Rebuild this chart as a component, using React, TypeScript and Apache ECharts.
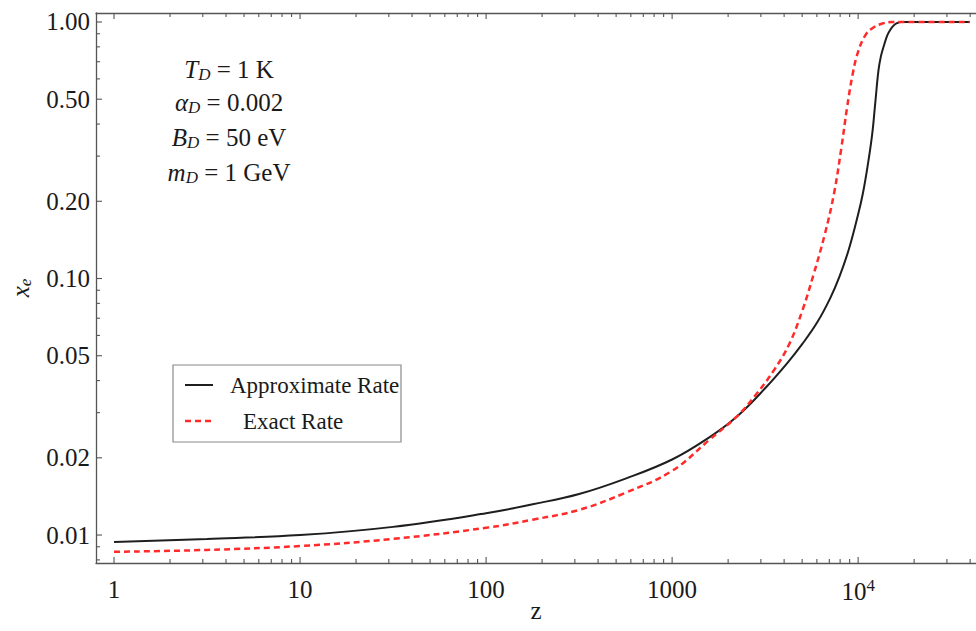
import React, { useEffect, useRef } from "react";
import * as echarts from "echarts";

const SERIF = '"Liberation Serif", "Times New Roman", serif';

// Approximate rate (solid black): z, x_e
const zApprox = [1, 3.16, 10, 31.6, 100, 178, 316, 562, 1000, 1585, 2239, 3162, 4169, 5012, 6026, 7079, 7943, 8913, 10000, 10593, 11220, 11885, 12359, 12853, 13243, 13709, 14289, 14859, 15488, 16144, 16982, 39810];
const xeApprox = [0.0094, 0.00966, 0.01, 0.01076, 0.01216, 0.01318, 0.01445, 0.0166, 0.0197, 0.02404, 0.02904, 0.03733, 0.0469, 0.0556, 0.0675, 0.0839, 0.102, 0.13, 0.178, 0.214, 0.272, 0.363, 0.484, 0.646, 0.733, 0.802, 0.881, 0.931, 0.968, 0.989, 1.0, 1.0];

// Exact rate (dashed red): z, x_e
const zExact = [1, 3.16, 10, 31.6, 100, 178, 316, 562, 1000, 1585, 2239, 2818, 3548, 4266, 5012, 5754, 6607, 7413, 8128, 8710, 9333, 10000, 10965, 12023, 13490, 15136, 39810];
const xeExact = [0.0086, 0.00875, 0.00906, 0.00966, 0.01067, 0.01148, 0.01253, 0.01462, 0.0178, 0.0235, 0.0291, 0.0352, 0.0442, 0.0556, 0.075, 0.1035, 0.148, 0.214, 0.324, 0.462, 0.624, 0.767, 0.891, 0.95, 0.986, 1.0, 1.0];

const seriesNames = ["Approximate Rate", "Exact Rate"];

const xMajorTicks = [1, 10, 100, 1000, 10000];
const xMinorMultipliers = [2, 3, 4, 5, 6, 7, 8, 9];
const yMajorTicks = [0.01, 0.02, 0.05, 0.1, 0.2, 0.5, 1];
const yMinorTicks = [0.008, 0.009, 0.03, 0.04, 0.06, 0.07, 0.08, 0.09, 0.3, 0.4, 0.6, 0.7, 0.8, 0.9];

const paramLines = [
  "{i|T}{sub|D}{n| = 1 K}",
  "{i|α}{sub|D}{n| = 0.002}",
  "{i|B}{sub|D}{n| = 50 eV}",
  "{i|m}{sub|D}{n| = 1 GeV}",
];

const X_MIN = 0.8;
const X_MAX = 43000;
const Y_MIN = 0.00778;
const Y_MAX = 1.084;

const GRID_LEFT = 96;
const GRID_TOP = 13;
const GRID_BOTTOM = 68;
const CHART_W = 976;
const CHART_H = 631;

const xMinorTicks: number[] = [];
for (const d of xMajorTicks) {
  for (const m of xMinorMultipliers) {
    const v = d * m;
    if (v < X_MAX) xMinorTicks.push(v);
  }
}

const AXIS_COLOR = "#555555";
const LABEL_COLOR = "#1a1a1a";
const MAJOR_LEN = 6;
const MINOR_LEN = 4;

export default function App() {
  const ref = useRef<HTMLDivElement>(null);
  useEffect(() => {
    if (!ref.current) return;
    const chart = echarts.init(ref.current, null, { renderer: "svg" });
    const richParams = {
      i: { fontFamily: SERIF, fontStyle: "italic", fontSize: 25, fill: LABEL_COLOR },
      sub: { fontFamily: SERIF, fontStyle: "italic", fontSize: 17, fill: LABEL_COLOR, padding: [10, 0, 0, 0] },
      n: { fontFamily: SERIF, fontSize: 25, fill: LABEL_COLOR },
    };
    const paramY = [69, 102, 137, 172];
    const option: any = {
      animation: false,
      backgroundColor: "#ffffff",
      grid: { left: GRID_LEFT, top: GRID_TOP, right: 0, bottom: GRID_BOTTOM, containLabel: false, outerBoundsMode: "none" },
      xAxis: [
        {
          type: "log",
          logBase: 10,
          min: X_MIN,
          max: X_MAX,
          position: "bottom",
          axisLine: { show: true, onZero: false, lineStyle: { color: AXIS_COLOR, width: 1.3 } },
          axisTick: { show: false },
          axisLabel: {
            show: true,
            customValues: xMajorTicks,
            margin: 14,
            color: LABEL_COLOR,
            fontFamily: SERIF,
            fontSize: 25,
            formatter: (v: number) => {
              const r = Math.round(v);
              if (r >= 10000) return "{n|10}{sup|4}";
              return "{n|" + r + "}";
            },
            rich: {
              n: { fontFamily: SERIF, fontSize: 25, color: LABEL_COLOR },
              sup: { fontFamily: SERIF, fontSize: 17, color: LABEL_COLOR, padding: [0, 0, 12, 0] },
            },
          },
          splitLine: { show: false },
          name: "z",
          nameLocation: "middle",
          nameGap: 35,
          nameMoveOverlap: false,
          nameTextStyle: { fontFamily: SERIF, fontSize: 25, color: LABEL_COLOR },
        },
        {
          type: "log",
          logBase: 10,
          min: X_MIN,
          max: X_MAX,
          position: "top",
          axisLine: { show: true, onZero: false, lineStyle: { color: AXIS_COLOR, width: 1.3 } },
          axisTick: { show: false },
          axisLabel: { show: false },
          splitLine: { show: false },
        },
      ],
      yAxis: [
        {
          type: "log",
          logBase: 10,
          min: Y_MIN,
          max: Y_MAX,
          position: "left",
          axisLine: { show: true, onZero: false, lineStyle: { color: AXIS_COLOR, width: 1.3 } },
          axisTick: { show: false },
          axisLabel: {
            show: true,
            customValues: yMajorTicks,
            margin: 6,
            color: LABEL_COLOR,
            fontFamily: SERIF,
            fontSize: 25,
            formatter: (v: number) => v.toFixed(2),
          },
          splitLine: { show: false },
          name: "{i|x}{sub|e}",
          nameLocation: "middle",
          nameGap: 62,
          nameRotate: 90,
          nameMoveOverlap: false,
          nameTextStyle: {
            fontFamily: SERIF,
            fontSize: 25,
            color: LABEL_COLOR,
            rich: {
              i: { fontFamily: SERIF, fontStyle: "italic", fontSize: 25, color: LABEL_COLOR },
              sub: { fontFamily: SERIF, fontStyle: "italic", fontSize: 17, color: LABEL_COLOR, padding: [10, 0, 0, 0] },
            },
          },
        },
      ],
      series: [
        {
          name: seriesNames[0],
          type: "line",
          xAxisIndex: 0,
          yAxisIndex: 0,
          data: zApprox.map((z, i) => [z, xeApprox[i]]),
          showSymbol: false,
          symbol: "none",
          smooth: 0.4,
          lineStyle: { color: "#1e1e1e", width: 2 },
          z: 2,
        },
        {
          name: seriesNames[1],
          type: "line",
          xAxisIndex: 0,
          yAxisIndex: 0,
          data: zExact.map((z, i) => [z, xeExact[i]]),
          showSymbol: false,
          symbol: "none",
          smooth: 0.4,
          lineStyle: { color: "#ff2a2a", width: 2.5, type: [6, 4] },
          z: 3,
        },
      ],
    };
    chart.setOption(option);

    const yBottom = CHART_H - GRID_BOTTOM;
    const yTop = GRID_TOP;
    const xLeft = GRID_LEFT;
    const inGrid = (p: any) =>
      p && Array.isArray(p) && isFinite(p[0]) && isFinite(p[1]) &&
      p[0] >= xLeft - 1 && p[0] <= CHART_W + 1 && p[1] >= yTop - 1 && p[1] <= yBottom + 1;

    // Convert a data point to pixels through the chart's own log cartesian.
    const finders: any[] = [{ seriesIndex: 0 }, { gridIndex: 0 }, { xAxisIndex: 0, yAxisIndex: 0 }];
    const toPoint = (x: number, y: number): number[] | null => {
      const candidates = [
        [x, y],
        [Math.log10(x), Math.log10(y)],
      ];
      for (const f of finders) {
        for (const c of candidates) {
          let r: any = null;
          try {
            r = chart.convertToPixel(f, c as any);
          } catch (e) {
            r = null;
          }
          if (inGrid(r)) return r as number[];
        }
      }
      return null;
    };

    const tickLine = (x1: number, y1: number, x2: number, y2: number) => ({
      type: "line",
      silent: true,
      z: 10,
      shape: { x1, y1, x2, y2 },
      style: { stroke: AXIS_COLOR, lineWidth: 1.1 },
    });
    const ticks: any[] = [];
    const addX = (v: number, len: number) => {
      const p = toPoint(v, 0.1);
      if (!p) return;
      ticks.push(tickLine(p[0], yBottom, p[0], yBottom - len));
      ticks.push(tickLine(p[0], yTop, p[0], yTop + len));
    };
    const addY = (v: number, len: number) => {
      const p = toPoint(10, v);
      if (!p) return;
      ticks.push(tickLine(xLeft, p[1], xLeft + len, p[1]));
    };
    xMajorTicks.forEach((v) => addX(v, MAJOR_LEN));
    xMinorTicks.forEach((v) => addX(v, MINOR_LEN));
    yMajorTicks.forEach((v) => addY(v, MAJOR_LEN));
    yMinorTicks.forEach((v) => addY(v, MINOR_LEN));

    chart.setOption({
      graphic: [
        ...paramLines.map((t, k) => ({
          type: "text",
          x: 229,
          y: paramY[k],
          style: { text: t, rich: richParams, align: "center", verticalAlign: "middle", fontFamily: SERIF, fontSize: 25 },
        })),
        {
          type: "group",
          children: [
            { type: "rect", shape: { x: 173, y: 365, width: 228, height: 77 }, style: { fill: "#ffffff", stroke: "#8a8a8a", lineWidth: 1.2 } },
            { type: "line", shape: { x1: 185, y1: 385, x2: 213, y2: 385 }, style: { stroke: "#1e1e1e", lineWidth: 2 } },
            { type: "text", x: 230, y: 385, style: { text: seriesNames[0], fontFamily: SERIF, fontSize: 23, fill: LABEL_COLOR, verticalAlign: "middle" } },
            { type: "line", shape: { x1: 185, y1: 421, x2: 212, y2: 421 }, style: { stroke: "#ff2a2a", lineWidth: 2.5, lineDash: [6, 4] } },
            { type: "text", x: 243, y: 421, style: { text: seriesNames[1], fontFamily: SERIF, fontSize: 23, fill: LABEL_COLOR, verticalAlign: "middle" } },
          ],
        },
        ...ticks,
      ],
    });
    return () => chart.dispose();
  }, []);
  return (
    <div
      ref={ref}
      style={{ position: "absolute", left: 0, top: 0, width: 976, height: 631, background: "#fff" }}
    />
  );
}
